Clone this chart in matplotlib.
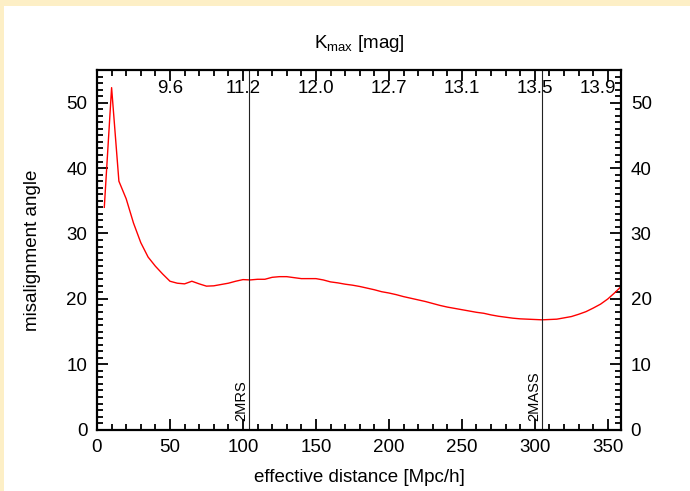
import matplotlib
matplotlib.use("Agg")
import matplotlib.pyplot as plt
from matplotlib.patches import Rectangle
from matplotlib.ticker import MultipleLocator

# misalignment angle vs effective distance
distancia = [5, 10, 15, 20, 25, 30, 35, 40, 45, 50, 55, 60, 65, 70, 75, 80,
             85, 90, 95, 100, 105, 110, 115, 120, 125, 130, 135, 140, 145,
             150, 155, 160, 165, 170, 175, 180, 185, 190, 195, 200, 205, 210,
             215, 220, 225, 230, 235, 240, 245, 250, 255, 260, 265, 270, 275,
             280, 285, 290, 295, 300, 305, 310, 315, 320, 325, 330, 335, 340,
             345, 350, 355, 360]
angulo = [34.0, 52.3, 38.0, 35.3, 31.6, 28.6, 26.4, 25.0, 23.8, 22.7, 22.4,
          22.3, 22.7, 22.3, 21.95, 22.0, 22.2, 22.4, 22.7, 22.95, 22.9, 23.0,
          23.0, 23.3, 23.4, 23.4, 23.25, 23.1, 23.1, 23.1, 22.9, 22.6, 22.45,
          22.25, 22.1, 21.9, 21.65, 21.4, 21.1, 20.9, 20.65, 20.35, 20.1,
          19.85, 19.6, 19.3, 19.0, 18.75, 18.55, 18.35, 18.15, 17.95, 17.8,
          17.55, 17.35, 17.2, 17.05, 16.95, 16.9, 16.85, 16.8, 16.85, 16.9,
          17.1, 17.3, 17.65, 18.05, 18.6, 19.2, 20.0, 21.0, 22.1]

# top axis: K magnitude at each 50 Mpc/h
K_DIST = [50, 100, 150, 200, 250, 300, 343]
K_ROTULOS = ["9.6", "11.2", "12.0", "12.7", "13.1", "13.5", "13.9"]

# survey depths
LEVANTAMENTOS = ["2MRS", "2MASS"]
LEV_DIST = [104.3, 304.6]

CREME = "#fdefc6"

plt.rcParams.update({
    "font.family": ["Liberation Sans", "DejaVu Sans"],
    "font.size": 13.5,
    "mathtext.fontset": "custom",
    "mathtext.rm": "Liberation Sans",
})

fig = plt.figure(figsize=(6.9, 4.91), dpi=100, facecolor=CREME)
fig.patches.append(Rectangle((4 / 690, 0), 1, 485 / 491, transform=fig.transFigure,
                             facecolor="white", edgecolor="none", zorder=-10))
ax = fig.add_axes([97 / 690, 1 - 429.7 / 491, 524 / 690, 359.7 / 491])

ax.plot(distancia, angulo, color="red", linewidth=1.0)

for nome, xv in zip(LEVANTAMENTOS, LEV_DIST):
    ax.axvline(xv, color="#222222", linewidth=0.8)
    ax.text(xv - 0.5, 1.4, nome, rotation=90, ha="right", va="bottom",
            fontsize=10.5)

for xv, rot in zip(K_DIST, K_ROTULOS):
    ax.text(xv, 53.4, rot, ha="center", va="top", fontsize=13.5)

ax.set_xlim(0, 359)
ax.set_ylim(0, 55)
ax.xaxis.set_major_locator(MultipleLocator(50))
ax.xaxis.set_minor_locator(MultipleLocator(10))
ax.yaxis.set_major_locator(MultipleLocator(10))
ax.yaxis.set_minor_locator(MultipleLocator(1))
ax.tick_params(which="both", direction="in", top=True, right=True,
               labelright=True, width=1.3)
ax.tick_params(which="major", length=8, pad=7)
ax.tick_params(which="minor", length=4)
for sp in ax.spines.values():
    sp.set_linewidth(1.6)

ax.set_xlabel("effective distance [Mpc/h]", labelpad=9)
ax.set_ylabel("misalignment angle", labelpad=18)
ax.set_title(r"$\mathregular{K_{max}}$ [mag]", pad=16, fontsize=13.5)

fig.savefig("out.png", dpi=100, facecolor=CREME)
